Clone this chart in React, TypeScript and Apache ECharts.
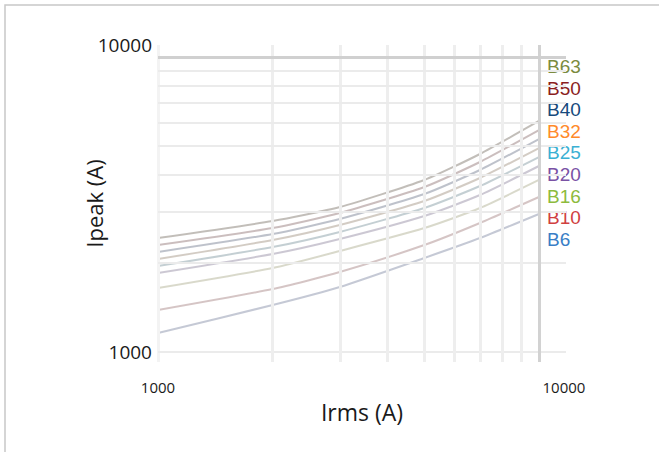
import React, { useEffect, useRef } from 'react';
import * as echarts from 'echarts';

// Prospective current Irms (A)
const irms = [1000, 2000, 3000, 5000, 7000, 10000];
// Let-through peak current Ipeak (A) for each breaker
const breakerNames = ['B63', 'B50', 'B40', 'B32', 'B25', 'B20', 'B16', 'B10', 'B6'];
const b63 = [2434, 2781, 3101, 3830, 4691, 6070];
const b50 = [2305, 2632, 2959, 3625, 4407, 5655];
const b40 = [2183, 2512, 2824, 3432, 4140, 5272];
const b32 = [2067, 2397, 2695, 3250, 3889, 4914];
const b25 = [1956, 2269, 2552, 3077, 3653, 4581];
const b20 = [1853, 2149, 2416, 2891, 3406, 4271];
const b16 = [1648, 1926, 2200, 2632, 3077, 3830];
const b10 = [1388, 1635, 1867, 2305, 2738, 3353];
const b6 = [1160, 1443, 1661, 2083, 2434, 2937];
const seriesValues = [b63, b50, b40, b32, b25, b20, b16, b10, b6];
// Grid line values (log decades and their subdivisions)
const gridValues = [1000, 2000, 3000, 4000, 5000, 6000, 7000, 8000, 9000, 10000];
const tickLabels = ['1000', '10000'];

const labelColors = ['#7b8b3e', '#8b1e1e', '#174a7c', '#ff8a2a', '#3bb0d3', '#7a52a5', '#8dbb3d', '#d0403f', '#3a7ec6'];
const lineColors = ['rgba(120,110,100,0.45)', 'rgba(130,100,100,0.42)', 'rgba(100,110,130,0.42)', 'rgba(140,120,100,0.38)', 'rgba(100,130,140,0.38)', 'rgba(120,110,140,0.38)', 'rgba(150,150,110,0.36)', 'rgba(150,110,110,0.4)', 'rgba(110,120,150,0.4)'];

const FONT = '"Open Sans", "Noto Sans", sans-serif';
const LABEL_FONT = '"Liberation Sans", Arial, sans-serif';

const isLabelled = (v: number) => tickLabels.indexOf(String(Math.round(v))) >= 0 && Math.abs(Math.log10(v) - Math.round(Math.log10(v))) < 1e-6;

export default function App() {
  const ref = useRef<HTMLDivElement>(null);
  useEffect(() => {
    if (!ref.current) return;
    const chart = echarts.init(ref.current, undefined, { renderer: 'svg' });

    const gridLines: any[] = [];
    gridValues.forEach((v) => {
      gridLines.push({
        xAxis: v,
        lineStyle: v === 10000
          ? { color: '#d2d2d2', width: 3, type: 'solid' }
          : { color: v === 1000 ? '#f3f3f3' : '#eeeeee', width: 3, type: 'solid' },
      });
      gridLines.push({
        yAxis: v,
        lineStyle: v === 10000
          ? { color: '#d0d0d0', width: 3, type: 'solid' }
          : { color: '#ebebeb', width: 2, type: 'solid' },
      });
    });

    const series: any[] = [
      {
        type: 'line',
        name: 'grid',
        data: [[1000, 1000]],
        showSymbol: false,
        silent: true,
        z: 0,
        lineStyle: { opacity: 0 },
        markLine: {
          silent: true,
          symbol: 'none',
          label: { show: false },
          animation: false,
          data: gridLines,
        },
      },
    ];
    breakerNames.forEach((name, i) => {
      series.push({
        type: 'line',
        name,
        data: irms.map((x, j) => [x, seriesValues[i][j]]),
        smooth: 0.2,
        showSymbol: false,
        z: 2,
        lineStyle: { color: lineColors[i], width: 2 },
      });
    });

    const graphic: any[] = [
      {
        type: 'polyline',
        shape: { points: [[5, 452], [5, 5], [659, 5]] },
        style: { stroke: '#c8c8c8', lineWidth: 1.5, fill: 'none' },
        silent: true,
      },
    ];
    breakerNames.forEach((name, i) => {
      graphic.push({
        type: 'text',
        left: 547,
        top: 57 + i * 21.6,
        style: {
          text: name,
          fill: labelColors[i],
          font: `19px ${LABEL_FONT}`,
        },
      });
    });

    chart.setOption({
      animation: false,
      backgroundColor: '#ffffff',
      textStyle: { fontFamily: FONT },
      grid: { left: 158, right: 93, top: 45, bottom: 90, containLabel: false },
      xAxis: {
        type: 'log',
        logBase: 10,
        min: 1000,
        max: 11776,
        name: 'Irms (A)',
        nameLocation: 'middle',
        nameGap: 38,
        nameMoveOverlap: false,
        nameTextStyle: { fontSize: 23, color: '#1a1a1a', fontFamily: FONT },
        axisLine: { show: false },
        axisTick: { show: false },
        splitLine: { show: false },
        minorSplitLine: { show: false },
        axisLabel: {
          margin: 17,
          color: '#1a1a1a',
          fontSize: 15,
          fontFamily: FONT,
          showMinLabel: true,
          showMaxLabel: true,
          formatter: (v: number) => {
            if (!isLabelled(v)) return '';
            const s = String(Math.round(v));
            return s === '10000' ? `{far|${s}}` : `{n|${s}}`;
          },
          rich: {
            far: { fontSize: 15, color: '#1a1a1a', fontFamily: FONT, padding: [0, 0, 0, 50] },
            n: { fontSize: 15, color: '#1a1a1a', fontFamily: FONT },
          },
        },
      },
      yAxis: {
        type: 'log',
        logBase: 10,
        min: 925,
        max: 10983,
        name: 'Ipeak (A)',
        nameLocation: 'middle',
        nameGap: 53,
        nameMoveOverlap: false,
        nameTextStyle: { fontSize: 22, color: '#1a1a1a', fontFamily: FONT },
        axisLine: { show: false },
        axisTick: { show: false },
        splitLine: { show: false },
        minorSplitLine: { show: false },
        axisLabel: {
          margin: 6,
          color: '#1a1a1a',
          fontSize: 19,
          fontFamily: FONT,
          formatter: (v: number) => {
            if (!isLabelled(v)) return '';
            const s = String(Math.round(v));
            return s === '10000' ? `{up|${s}}` : `{n|${s}}`;
          },
          rich: {
            up: { fontSize: 19, color: '#1a1a1a', fontFamily: FONT, padding: [0, 0, 24, 0] },
            n: { fontSize: 19, color: '#1a1a1a', fontFamily: FONT },
          },
        },
      },
      series,
      graphic,
    });
    return () => chart.dispose();
  }, []);
  return (
    <div
      ref={ref}
      style={{ position: 'fixed', left: 0, top: 0, width: 659, height: 452, background: '#fff' }}
    />
  );
}
